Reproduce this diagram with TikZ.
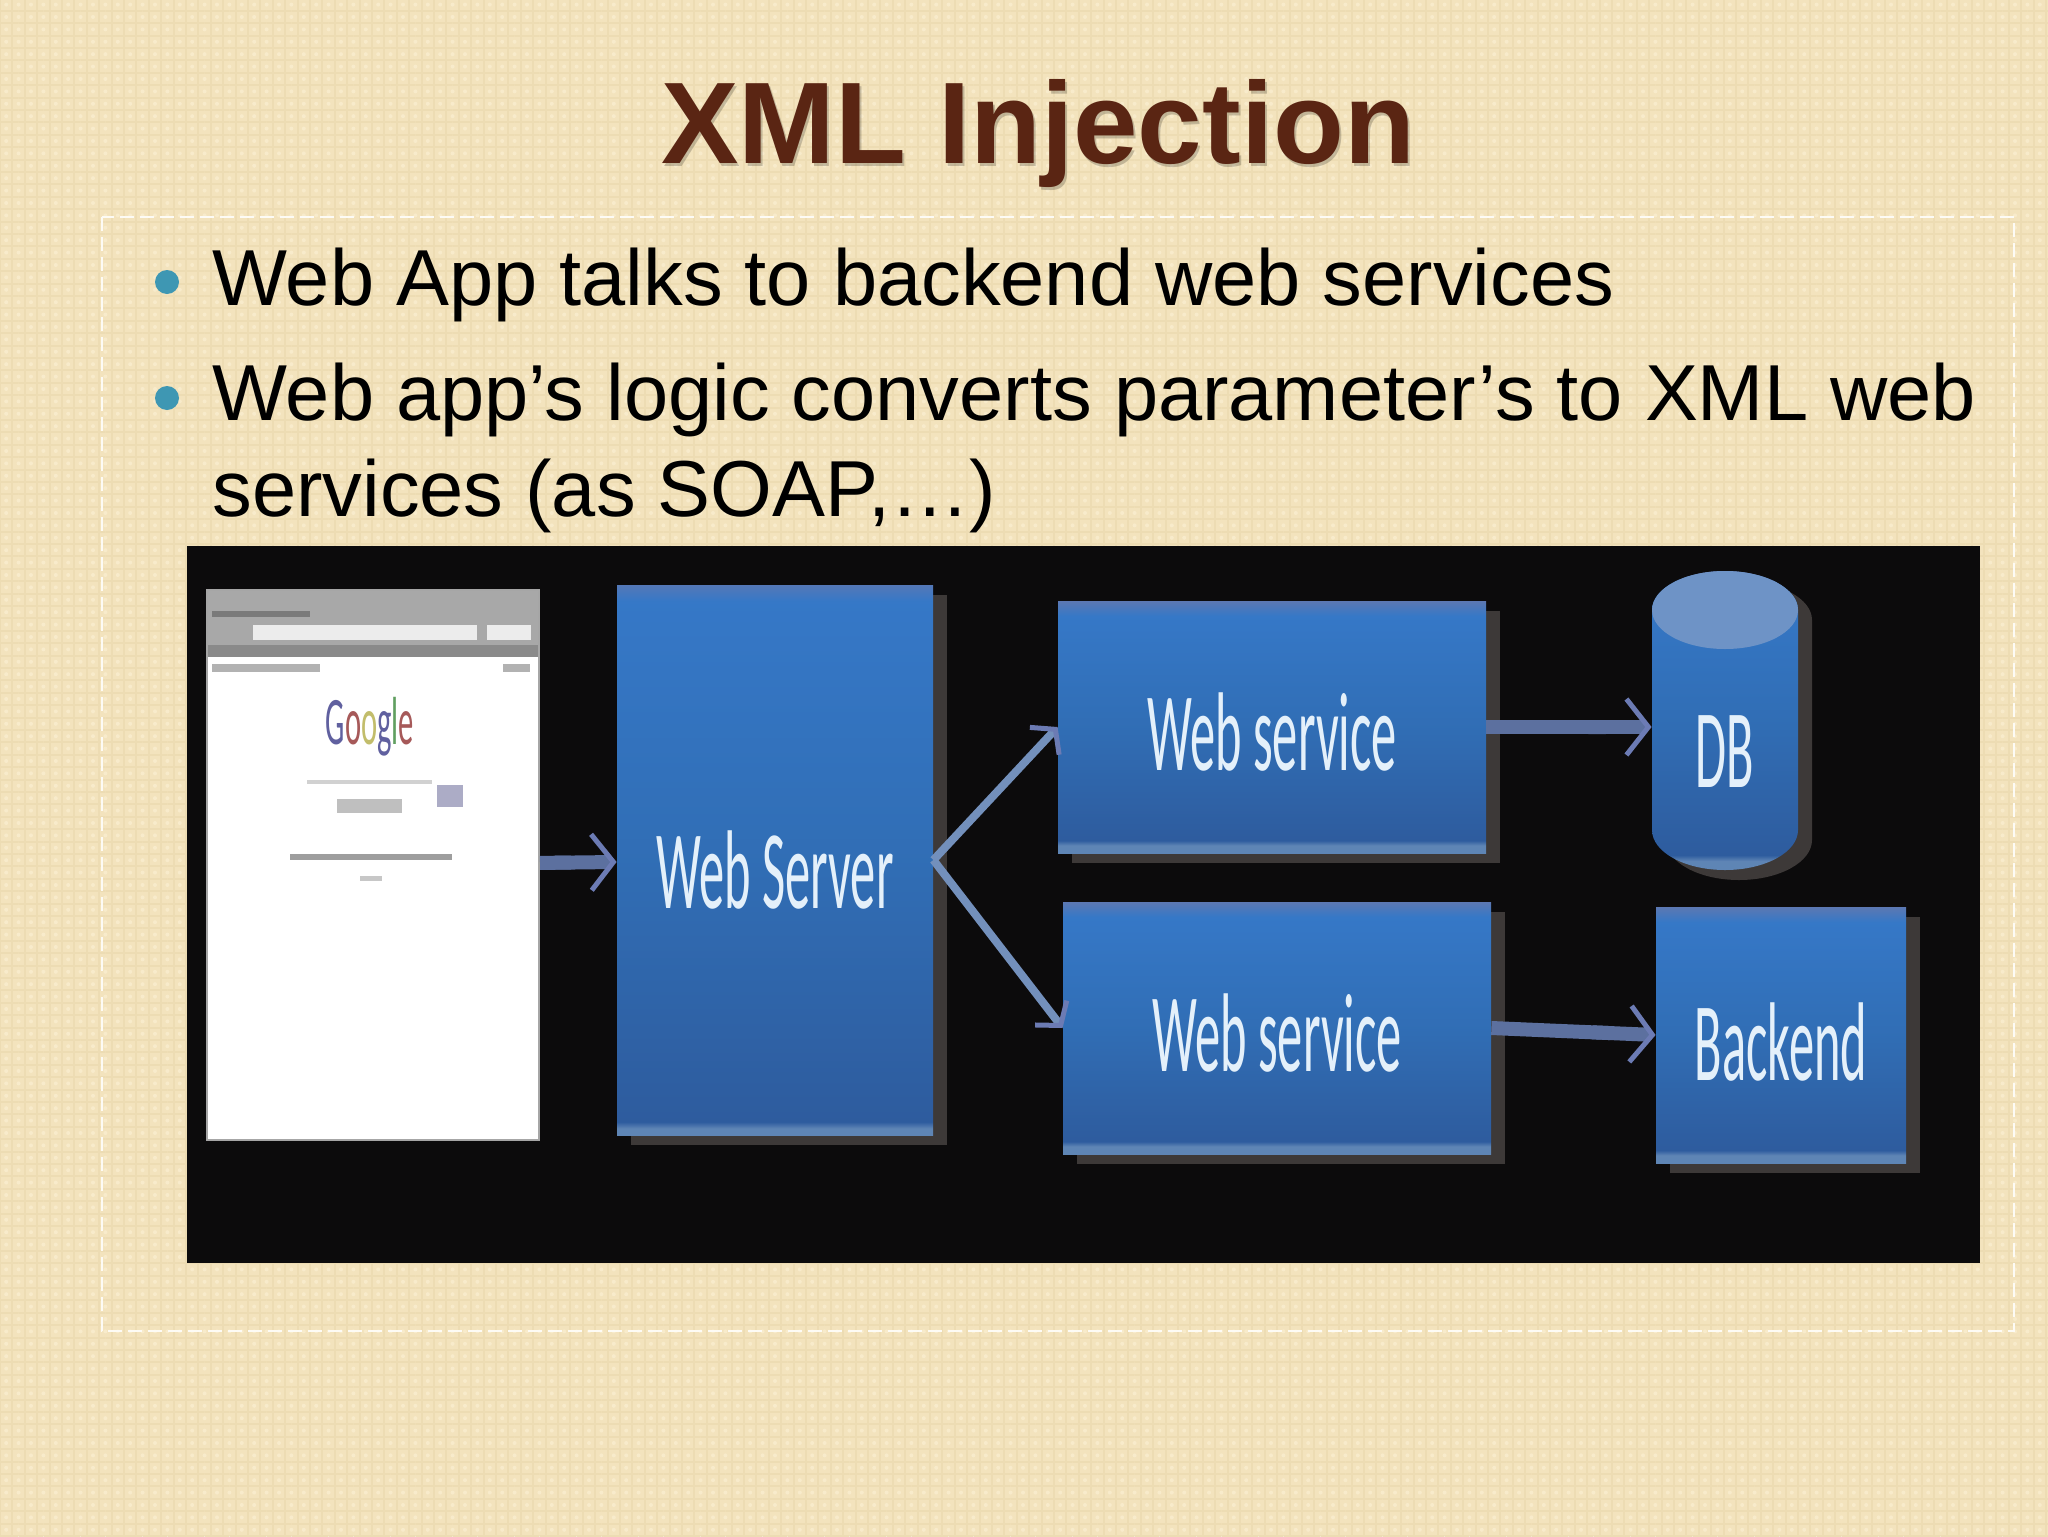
\documentclass[tikz,border=0pt]{standalone}
\usepackage{fontspec}
\usetikzlibrary{arrows.meta}
\usetikzlibrary{patterns.meta}
\usetikzlibrary{shadows}
\setmainfont{Liberation Sans}
\newfontfamily\shotfont[FakeStretch=0.45]{Carlito}
\definecolor{slidebg}{HTML}{F3E3BD}
\definecolor{slideweave}{HTML}{EDDCB3}
\definecolor{slidespeck}{HTML}{F8EBCB}
\definecolor{titlebrown}{HTML}{5A2513}
\definecolor{bulletteal}{HTML}{3E97B3}
\definecolor{panelblack}{HTML}{0C0B0C}
\definecolor{boxshadow}{HTML}{3D3938}
\definecolor{flowblue}{HTML}{5C709F}
\definecolor{flowhead}{HTML}{6C7BB4}
\definecolor{flowpale}{HTML}{7390BC}
\definecolor{dbtop}{HTML}{6E93C6}
\definecolor{labelwhite}{HTML}{E4F0FA}
\pgfdeclareverticalshading{boxshade}{100bp}{
  rgb(0bp)=(0.37,0.52,0.71);
  rgb(26.5bp)=(0.37,0.52,0.71);
  rgb(27.5bp)=(0.18,0.36,0.62);
  rgb(50bp)=(0.19,0.43,0.71);
  rgb(72bp)=(0.21,0.47,0.78);
  rgb(75bp)=(0.36,0.47,0.70);
  rgb(100bp)=(0.36,0.47,0.70)}
\pgfdeclareverticalshading{tallshade}{100bp}{
  rgb(0bp)=(0.37,0.52,0.71);
  rgb(25.6bp)=(0.37,0.52,0.71);
  rgb(26.2bp)=(0.18,0.36,0.62);
  rgb(50bp)=(0.19,0.43,0.71);
  rgb(73.5bp)=(0.21,0.47,0.78);
  rgb(75bp)=(0.33,0.47,0.72);
  rgb(100bp)=(0.33,0.47,0.72)}
\tikzset{
  bodyline/.style={anchor=base west,inner sep=0pt,font=\fontsize{39.7}{48}\selectfont},
  bullet/.style={circle,fill=bulletteal,minimum size=12pt,inner sep=0pt},
  bluebox/.style={shading=boxshade,inner sep=0pt,text=labelwhite,text depth=0pt,
    font=\shotfont\fontsize{56}{60}\selectfont,
    copy shadow={shadow xshift=7pt,shadow yshift=-5pt,draw=none,fill=boxshadow}},
  flow/.style={line width=7pt,flowblue,
    -{Butt Cap[sep=9pt]Straight Barb[length=11pt,width=28pt,line width=2.5pt,flowhead]}},
  flowthin/.style={line width=4pt,flowpale,
    -{Straight Barb[length=8pt,width=20pt,line width=2.5pt,flowhead]}}
}
\begin{document}
\begin{tikzpicture}[x=0.5pt,y=-0.5pt]
  % slide ground
  \useasboundingbox (0,0) rectangle (2048,1536);
  \fill[slidebg] (0,0) rectangle (2048,1536);
  \fill[pattern={Hatch[angle=0,distance=6.2pt,line width=1pt]},pattern color=slideweave]
    (0,0) rectangle (2048,1536);
  \fill[pattern={Dots[distance=6.2pt,radius=1pt,xshift=3.1pt,yshift=3.1pt]},pattern color=slidespeck]
    (0,0) rectangle (2048,1536);
  \draw[white!85!slidebg,line width=1pt,dash pattern=on 7pt off 3pt]
    (102,217) rectangle (2014,1331);
  % heading and bullets
  \node[anchor=base,inner sep=0pt,text=black,opacity=0.2,font=\fontsize{58}{64}\bfseries]
    (titleshadow) at (1040,166) {XML Injection};
  \node[anchor=base,inner sep=0pt,text=titlebrown,font=\fontsize{58}{64}\bfseries]
    (title) at (1038,163) {XML Injection};
  \node[bullet] (dotone) at (167,282) {};
  \node[bodyline] (itemone) at (212,305) {Web App talks to backend web services};
  \node[bullet] (dottwo) at (167,398) {};
  \node[bodyline] (itemtwo) at (212,420) {Web app’s logic converts parameter’s to XML web};
  \node[bodyline] (itemtwob) at (212,516) {services (as SOAP,…)};
  % screenshot panel
  \fill[panelblack] (187,546) rectangle (1980,1263);
  \node[fill=white,draw=gray!70,line width=1pt,minimum width=166pt,minimum height=275pt,inner sep=0pt]
    (browser) at (373,865) {};
  \fill[black!34] (208,591) rectangle (538,657);
  \fill[black!46] (208,645) rectangle (538,657);
  \fill[black!52] (212,611) rectangle (310,617);
  \fill[white!85!gray] (253,625) rectangle (477,640);
  \fill[white!85!gray] (487,625) rectangle (531,640);
  \fill[black!30] (212,664) rectangle (320,672);
  \fill[black!30] (503,664) rectangle (530,672);
  \node[inner sep=0pt,font=\shotfont\fontsize{34}{36}\selectfont] (google) at (370,727)
    {\textcolor{blue!25!gray}{G}\textcolor{red!30!gray}{o}\textcolor{yellow!45!gray}{o}\textcolor{blue!25!gray}{g}\textcolor{green!25!gray}{l}\textcolor{red!30!gray}{e}};
  \fill[black!18] (307,780) rectangle (432,784);
  \fill[black!25] (337,799) rectangle (402,813);
  \fill[blue!18!gray!55] (437,785) rectangle (463,807);
  \fill[black!38] (290,854) rectangle (452,860);
  \fill[black!22] (360,876) rectangle (382,881);
  % blocks
  \node[bluebox,shading=tallshade,text height=48pt,minimum width=158pt,minimum height=275pt] (server) at (775,860) {Web Server};
  \node[bluebox,text height=43pt,minimum width=214pt,minimum height=126pt] (wsone) at (1272,727) {Web service};
  \node[bluebox,text height=43pt,minimum width=214pt,minimum height=126pt] (wstwo) at (1277,1028) {Web service};
  \node[bluebox,text height=45pt,minimum width=125pt,minimum height=128pt] (backend) at (1781,1035) {Backend};
  \path[bluebox] (1652,610) -- (1652,830) arc[start angle=180,end angle=0,x radius=73,y radius=40]
    -- (1798,610) arc[start angle=0,end angle=-180,x radius=73,y radius=39] -- cycle;
  \fill[dbtop] (1725,610) ellipse (73 and 39);
  \node[inner sep=0pt,minimum width=73pt,minimum height=60pt,text=labelwhite,font=\shotfont\fontsize{56}{60}\selectfont] (db) at (1725,752) {DB};
  \coordinate (dbinlet) at (db.west |- wsone.east);
  % connectors
  \draw[flow] (browser) -- (server);
  \draw[flowthin] (server.east) -- (wsone.west);
  \draw[flowthin] (server.east) -- (wstwo.west);
  \draw[flow] (wsone.east) -- (dbinlet);
  \draw[flow] (wstwo.east) -- (backend.west);
\end{tikzpicture}
\end{document}
